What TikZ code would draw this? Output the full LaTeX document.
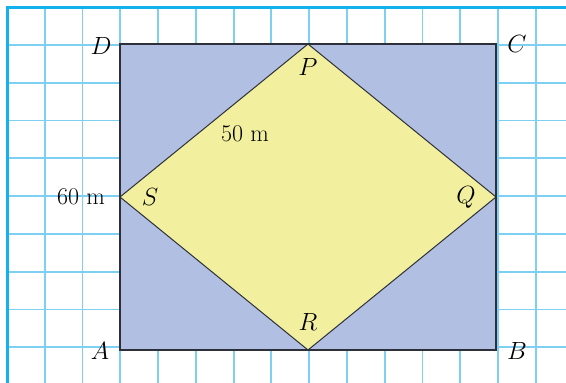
\documentclass[tikz,border=0pt]{standalone}
\usepackage{amsmath}
\usepackage{tikz}
\usetikzlibrary{positioning,calc}

\definecolor{gridblue}{RGB}{125,208,242}
\definecolor{frameblue}{RGB}{20,178,236}
\definecolor{fieldblue}{RGB}{177,191,226}
\definecolor{plotyellow}{RGB}{242,240,158}
\definecolor{edgegray}{RGB}{45,48,56}

\begin{document}
\begin{tikzpicture}[
  x=1pt, y=-1pt,
  font=\fontsize{24}{28}\selectfont,
  gridline/.style ={draw=gridblue, line width=1.8pt},
  frameline/.style={draw=frameblue, line width=3pt},
  field/.style    ={fill=fieldblue, draw=edgegray, line width=1.1pt},
  plot/.style     ={fill=plotyellow, draw=edgegray, line width=1pt, line join=miter},
  lbl/.style      ={inner sep=0pt},
]
\useasboundingbox (0,0) rectangle (566,383);

% ======================= squared paper =======================
\foreach \k in {0,...,14}
  \draw[gridline] ({7+37.77*\k},7) -- ({7+37.77*\k},383);
\foreach \k in {0,...,9}
  \draw[gridline] (7,{7+37.8*\k}) -- (566,{7+37.8*\k});
\draw[frameline] (7,383) -- (7,7) -- (566,7);

% ======================= field ABCD and plot PQRS =======================
\coordinate (A) at (120,350);
\coordinate (B) at (496,350);
\coordinate (C) at (496,44);
\coordinate (D) at (120,44);
\coordinate (P) at ($(D)!0.5!(C)$);
\coordinate (Q) at ($(C)!0.5!(B)$);
\coordinate (R) at ($(A)!0.5!(B)$);
\coordinate (S) at ($(D)!0.5!(A)$);

\draw[field] (A) -- (B) -- (C) -- (D) -- cycle;
\draw[plot] (P) -- (Q) -- (R) -- (S) -- cycle;

% corner and vertex labels
\node[lbl] (lA) at (100,351) {$A$};
\node[lbl] (lB) at (517,351) {$B$};
\node[lbl] (lC) at (517,44)  {$C$};
\node[lbl] (lD) at (101,46)  {$D$};
\node[lbl] (lP) at (308,67)  {$P$};
\node[lbl] (lQ) at (466,197) {$Q$};
\node[lbl] (lR) at (308,322) {$R$};
\node[lbl] (lS) at (150,197) {$S$};

% lengths
\node[lbl] (side) at (81,197)  {60 m};
\node[lbl] (diag) at (245,134) {50 m};
\end{tikzpicture}
\end{document}
